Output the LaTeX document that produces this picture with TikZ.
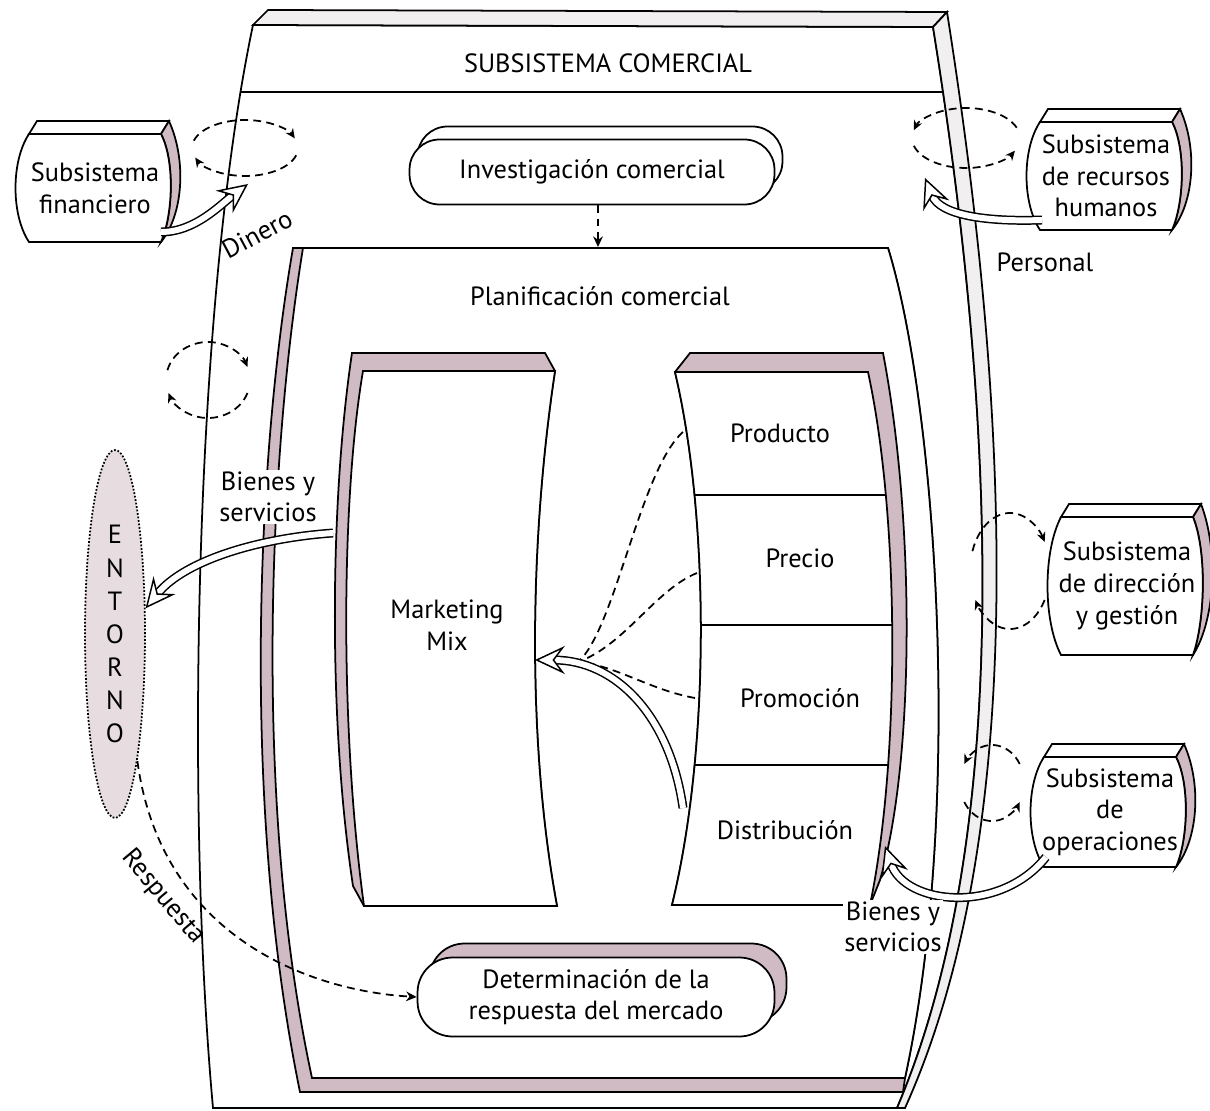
\documentclass[tikz,border=0pt]{standalone}
\usepackage{fontspec}
\setmainfont{PT Sans}
\usetikzlibrary{arrows.meta, shapes.geometric}

\definecolor{stipple}{RGB}{208,186,196}
\definecolor{paleshade}{RGB}{242,239,240}

\tikzset{
  panel/.style={line width=1pt},
  stadium/.style={draw, line width=1pt, fill=white, rounded corners=0.6cm, minimum width=7.3cm, minimum height=1.3cm},
  hollow/.style={double=white, double distance=3.4pt, line width=0.85pt,
    -{Stealth[fill=white, line width=0.85pt, length=17pt, width=16pt, inset=6pt]}},
  cyc/.style={line width=1pt, dash pattern=on 4.5pt off 3pt, -{Stealth[length=5.5pt, width=5pt]}},
  flow/.style={line width=1pt, dash pattern=on 4.5pt off 3pt, -{Stealth[length=6pt, width=5.5pt]}},
  mixflow/.style={line width=1pt, dash pattern=on 4.5pt off 3pt},
  entorno/.style={ellipse, draw, densely dotted, line width=1pt, fill=stipple!50,
    minimum width=1.2cm, minimum height=7.36cm, inner sep=0pt}
}

% external subsystem box: name, x, y, half height, text
\newcommand{\subbox}[5]{%
  \begin{scope}[shift={(#2,#3)}]
    \draw[panel, fill=white] (-58,-#4-13) -- (74,-#4-13) -- (66,-#4) -- (-66,-#4) -- cycle;
    \draw[panel, fill=stipple] (74,-#4-13) .. controls (92,-#4/2) and (88,#4/2) .. (66,#4)
      .. controls (78,#4/2) and (80,-#4/2) .. (66,-#4) -- cycle;
    \draw[panel, fill=white] (-66,-#4) -- (66,-#4) .. controls (80,-#4/2) and (78,#4/2) .. (66,#4)
      -- (-66,#4) .. controls (-84,#4/2) and (-84,-#4/2) .. (-66,-#4) -- cycle;
    \node (#1) at (0,0) {#5};
    \coordinate (#1-sw) at (-64,#4-10);
    \coordinate (#1-se) at (66,#4-10);
  \end{scope}}

\begin{document}
\begin{tikzpicture}[x=0.02cm, y=-0.02cm, every node/.style={font=\fontsize{15}{18}\selectfont, align=center}]
  \useasboundingbox (0,0) rectangle (1210,1111);

  % subsistema comercial
  \draw[panel, fill=white] (253,25) -- (933,27) .. controls (990,380) and (1020,820) .. (897,1108)
    -- (213,1108) .. controls (185,800) and (195,300) .. (253,25) -- cycle;
  \draw[panel, fill=paleshade] (268,10) -- (947,12) -- (933,27) -- (253,25) -- cycle;
  \draw[panel, fill=paleshade] (947,12) .. controls (1005,380) and (1035,820) .. (905,1108) -- (897,1108)
    .. controls (1020,820) and (990,380) .. (933,27) -- cycle;
  \draw[panel] (241,92) -- (944,92);
  \node (comercial) at (608,63) {SUBSISTEMA COMERCIAL};

  % planificacion comercial
  \draw[panel, fill=stipple] (293,248) -- (888,248) .. controls (935,400) and (965,800) .. (905,1078)
    -- (903,1092) -- (300,1092) .. controls (240,800) and (258,450) .. (293,248) -- cycle;
  \draw[panel, fill=white] (303,248) -- (888,248) .. controls (935,400) and (965,800) .. (905,1078)
    -- (312,1078) .. controls (252,800) and (270,450) .. (303,248) -- cycle;
  \node (plan) at (600,296) {Planificación comercial};
  \coordinate (plan-top) at (598,247);

  \node[stadium] (inv-back) at (600,159) {};
  \node[stadium] (inv) at (592,172) {Investigación comercial};
  \node[stadium, fill=stipple, minimum width=7.14cm, minimum height=1.58cm, rounded corners=0.7cm] (det-back) at (608,983) {};
  \node[stadium, minimum width=7.14cm, minimum height=1.58cm, rounded corners=0.7cm] (det) at (596,997) {Determinación de la\\respuesta del mercado};

  % marketing mix
  \draw[panel, fill=stipple] (352,353) -- (545,353) -- (555,371) .. controls (528,550) and (528,750) .. (557,906)
    -- (364,906) -- (353,886) .. controls (328,720) and (330,500) .. (352,353) -- cycle;
  \draw[panel, fill=white] (363,371) -- (555,371) .. controls (528,550) and (528,750) .. (557,906)
    -- (364,906) .. controls (340,730) and (341,500) .. (363,371) -- cycle;
  \node (mix) at (447,625) {Marketing\\Mix};

  % producto, precio, promocion, distribucion
  \draw[panel, fill=stipple] (675,372) -- (690,353) -- (883,353) .. controls (915,520) and (915,760) .. (880,880)
    -- (870,905) -- (672,905) .. controls (710,750) and (710,520) .. (675,372) -- cycle;
  \draw[panel, fill=white] (675,372) -- (868,372) .. controls (900,520) and (900,760) .. (870,905)
    -- (672,905) .. controls (710,750) and (710,520) .. (675,372) -- cycle;
  \begin{scope}
    \clip (675,372) -- (868,372) .. controls (900,520) and (900,760) .. (870,905)
      -- (672,905) .. controls (710,750) and (710,520) .. (675,372) -- cycle;
    \foreach \y in {495,625,765}
      \draw[panel] (600,\y) -- (950,\y);
  \end{scope}
  \node (producto) at (780,433) {Producto};
  \node (precio) at (800,558) {Precio};
  \node (promocion) at (800,698) {Promoción};
  \node (distribucion) at (785,830) {Distribución};

  \coordinate (prod) at (683,432);
  \coordinate (prec) at (697,573);
  \coordinate (prom) at (695,698);
  \coordinate (dist) at (683,808);
  \coordinate (join) at (578,662);
  \coordinate (mix-r) at (535,660);
  \coordinate (mix-l) at (333,533);

  % entorno
  \node[entorno, font=\fontsize{15}{18.8}\selectfont] (entorno) at (115,634) {E\\N\\T\\O\\R\\N\\O};

  % external subsystems
  \subbox{fin}{95}{188}{54}{Subsistema\\financiero}
  \subbox{rrhh}{1106}{176}{54}{Subsistema\\de recursos\\humanos}
  \subbox{dir}{1127}{586}{69}{Subsistema\\de dirección\\y gestión}
  \subbox{ope}{1110}{812}{55}{Subsistema\\de\\operaciones}

  % exchange cycles
  \coordinate (c-fin) at (245,148);
  \coordinate (c-left) at (208,380);
  \coordinate (c-rrhh) at (966,138);
  \coordinate (c-dir) at (1010,571);
  \coordinate (c-ope) at (992,783);
  \draw[cyc] (c-fin) ++(195:53 and 28) arc[start angle=195, end angle=340, x radius=53, y radius=28];
  \draw[cyc] (c-fin) ++(15:53 and 28) arc[start angle=15, end angle=160, x radius=53, y radius=28];
  \draw[cyc] (c-left) ++(195:42 and 38) arc[start angle=195, end angle=340, x radius=42, y radius=38];
  \draw[cyc] (c-left) ++(20:42 and 38) arc[start angle=20, end angle=160, x radius=42, y radius=38];
  \draw[cyc] (c-rrhh) ++(340:54 and 30) arc[start angle=340, end angle=195, x radius=54, y radius=30];
  \draw[cyc] (c-rrhh) ++(165:54 and 30) arc[start angle=165, end angle=25, x radius=54, y radius=30];
  \draw[cyc] (c-dir) ++(200:40 and 58) arc[start angle=200, end angle=330, x radius=40, y radius=58];
  \draw[cyc] (c-dir) ++(30:40 and 58) arc[start angle=30, end angle=150, x radius=40, y radius=58];
  \draw[cyc] (c-ope) ++(330:32 and 38) arc[start angle=330, end angle=210, x radius=32, y radius=38];
  \draw[cyc] (c-ope) ++(150:32 and 38) arc[start angle=150, end angle=30, x radius=32, y radius=38];

  % flows
  \draw[flow] (inv.south -| plan-top) -- (plan-top);
  \draw[mixflow] (prod) .. controls (640,470) and (615,630) .. (join);
  \draw[mixflow] (prec) .. controls (655,590) and (625,645) .. (join);
  \draw[mixflow] (prom) .. controls (650,690) and (615,665) .. (join);
  \draw[hollow] (dist) .. controls (670,715) and (615,660) .. (mix-r);
  \draw[hollow] (mix-l) .. controls (260,538) and (185,560) .. (entorno.40);
  \draw[flow] (entorno.-80) .. controls (160,930) and (300,990) .. (det.west);

  \coordinate (dinero-tip) at (248,184);
  \coordinate (personal-tip) at (925,178);
  \coordinate (bienes-tip) at (885,846);
  \draw[hollow] (fin-se) .. controls (195,232) and (220,205) .. (dinero-tip);
  \draw[hollow] (rrhh-sw) .. controls (985,222) and (940,215) .. (personal-tip);
  \draw[hollow] (ope-sw) .. controls (1000,915) and (905,905) .. (bienes-tip);

  % labels
  \node[rotate=28] (dinero) at (257,234) {Dinero};
  \node (personal) at (1045,262) {Personal};
  \node[fill=white, inner sep=1pt] (bienes-l) at (268,497) {Bienes y\\servicios};
  \node[fill=white, inner sep=1pt] (bienes-r) at (893,927) {Bienes y\\servicios};
  \node[rotate=-50] (respuesta) at (163,897) {Respuesta};
\end{tikzpicture}
\end{document}
